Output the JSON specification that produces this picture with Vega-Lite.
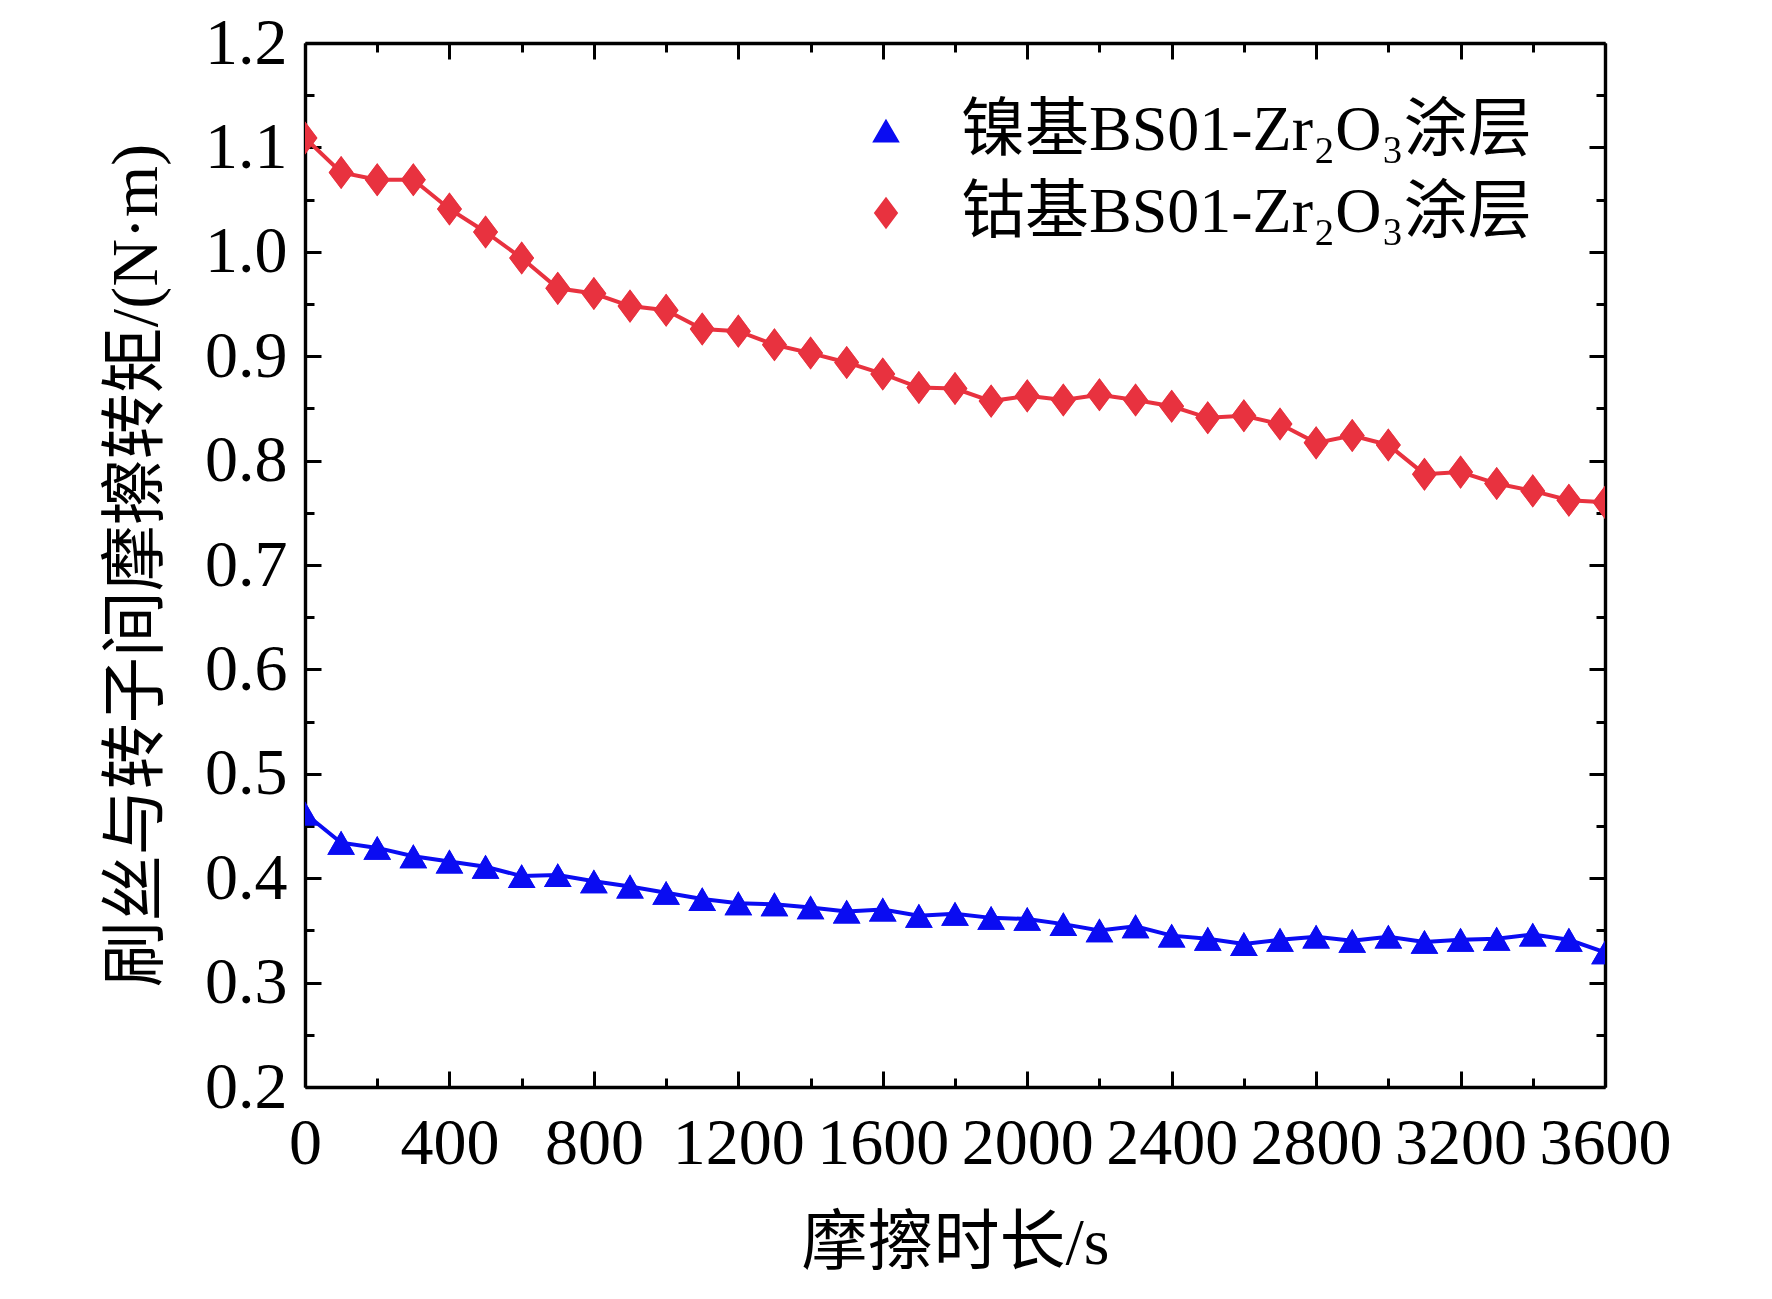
{
  "$schema": "https://vega.github.io/schema/vega-lite/v6.json",
  "autosize": {"type": "none"},
  "width": 1300,
  "height": 1044,
  "padding": {"left": 305, "top": 43, "right": 167, "bottom": 212},
  "background": "#ffffff",
  "config": {
    "view": {"stroke": null},
    "font": "Liberation Serif, Noto Sans CJK SC",
    "legend": {
      "title": null,
      "orient": "none",
      "legendX": 549,
      "legendY": 56,
      "symbolSize": 625,
      "labelFont": "Liberation Serif, Noto Sans CJK SC",
      "labelFontSize": 64,
      "labelColor": "black",
      "labelOffset": 43,
      "labelLimit": 0,
      "rowPadding": 18
    }
  },
  "data": {
    "values": [
      {"t": 0, "v": 0.462, "s": "镍基BS01-Zr₂O₃涂层"},
      {"t": 100, "v": 0.434, "s": "镍基BS01-Zr₂O₃涂层"},
      {"t": 200, "v": 0.429, "s": "镍基BS01-Zr₂O₃涂层"},
      {"t": 300, "v": 0.421, "s": "镍基BS01-Zr₂O₃涂层"},
      {"t": 400, "v": 0.416, "s": "镍基BS01-Zr₂O₃涂层"},
      {"t": 500, "v": 0.411, "s": "镍基BS01-Zr₂O₃涂层"},
      {"t": 600, "v": 0.402, "s": "镍基BS01-Zr₂O₃涂层"},
      {"t": 700, "v": 0.403, "s": "镍基BS01-Zr₂O₃涂层"},
      {"t": 800, "v": 0.397, "s": "镍基BS01-Zr₂O₃涂层"},
      {"t": 900, "v": 0.392, "s": "镍基BS01-Zr₂O₃涂层"},
      {"t": 1000, "v": 0.386, "s": "镍基BS01-Zr₂O₃涂层"},
      {"t": 1100, "v": 0.380, "s": "镍基BS01-Zr₂O₃涂层"},
      {"t": 1200, "v": 0.376, "s": "镍基BS01-Zr₂O₃涂层"},
      {"t": 1300, "v": 0.375, "s": "镍基BS01-Zr₂O₃涂层"},
      {"t": 1400, "v": 0.372, "s": "镍基BS01-Zr₂O₃涂层"},
      {"t": 1500, "v": 0.368, "s": "镍基BS01-Zr₂O₃涂层"},
      {"t": 1600, "v": 0.370, "s": "镍基BS01-Zr₂O₃涂层"},
      {"t": 1700, "v": 0.364, "s": "镍基BS01-Zr₂O₃涂层"},
      {"t": 1800, "v": 0.366, "s": "镍基BS01-Zr₂O₃涂层"},
      {"t": 1900, "v": 0.362, "s": "镍基BS01-Zr₂O₃涂层"},
      {"t": 2000, "v": 0.361, "s": "镍基BS01-Zr₂O₃涂层"},
      {"t": 2100, "v": 0.356, "s": "镍基BS01-Zr₂O₃涂层"},
      {"t": 2200, "v": 0.350, "s": "镍基BS01-Zr₂O₃涂层"},
      {"t": 2300, "v": 0.354, "s": "镍基BS01-Zr₂O₃涂层"},
      {"t": 2400, "v": 0.345, "s": "镍基BS01-Zr₂O₃涂层"},
      {"t": 2500, "v": 0.342, "s": "镍基BS01-Zr₂O₃涂层"},
      {"t": 2600, "v": 0.337, "s": "镍基BS01-Zr₂O₃涂层"},
      {"t": 2700, "v": 0.341, "s": "镍基BS01-Zr₂O₃涂层"},
      {"t": 2800, "v": 0.344, "s": "镍基BS01-Zr₂O₃涂层"},
      {"t": 2900, "v": 0.340, "s": "镍基BS01-Zr₂O₃涂层"},
      {"t": 3000, "v": 0.344, "s": "镍基BS01-Zr₂O₃涂层"},
      {"t": 3100, "v": 0.339, "s": "镍基BS01-Zr₂O₃涂层"},
      {"t": 3200, "v": 0.341, "s": "镍基BS01-Zr₂O₃涂层"},
      {"t": 3300, "v": 0.342, "s": "镍基BS01-Zr₂O₃涂层"},
      {"t": 3400, "v": 0.346, "s": "镍基BS01-Zr₂O₃涂层"},
      {"t": 3500, "v": 0.341, "s": "镍基BS01-Zr₂O₃涂层"},
      {"t": 3600, "v": 0.329, "s": "镍基BS01-Zr₂O₃涂层"},
      {"t": 0, "v": 1.109, "s": "钴基BS01-Zr₂O₃涂层"},
      {"t": 100, "v": 1.076, "s": "钴基BS01-Zr₂O₃涂层"},
      {"t": 200, "v": 1.069, "s": "钴基BS01-Zr₂O₃涂层"},
      {"t": 300, "v": 1.069, "s": "钴基BS01-Zr₂O₃涂层"},
      {"t": 400, "v": 1.041, "s": "钴基BS01-Zr₂O₃涂层"},
      {"t": 500, "v": 1.019, "s": "钴基BS01-Zr₂O₃涂层"},
      {"t": 600, "v": 0.994, "s": "钴基BS01-Zr₂O₃涂层"},
      {"t": 700, "v": 0.965, "s": "钴基BS01-Zr₂O₃涂层"},
      {"t": 800, "v": 0.960, "s": "钴基BS01-Zr₂O₃涂层"},
      {"t": 900, "v": 0.948, "s": "钴基BS01-Zr₂O₃涂层"},
      {"t": 1000, "v": 0.944, "s": "钴基BS01-Zr₂O₃涂层"},
      {"t": 1100, "v": 0.926, "s": "钴基BS01-Zr₂O₃涂层"},
      {"t": 1200, "v": 0.924, "s": "钴基BS01-Zr₂O₃涂层"},
      {"t": 1300, "v": 0.911, "s": "钴基BS01-Zr₂O₃涂层"},
      {"t": 1400, "v": 0.903, "s": "钴基BS01-Zr₂O₃涂层"},
      {"t": 1500, "v": 0.894, "s": "钴基BS01-Zr₂O₃涂层"},
      {"t": 1600, "v": 0.883, "s": "钴基BS01-Zr₂O₃涂层"},
      {"t": 1700, "v": 0.870, "s": "钴基BS01-Zr₂O₃涂层"},
      {"t": 1800, "v": 0.869, "s": "钴基BS01-Zr₂O₃涂层"},
      {"t": 1900, "v": 0.857, "s": "钴基BS01-Zr₂O₃涂层"},
      {"t": 2000, "v": 0.862, "s": "钴基BS01-Zr₂O₃涂层"},
      {"t": 2100, "v": 0.858, "s": "钴基BS01-Zr₂O₃涂层"},
      {"t": 2200, "v": 0.863, "s": "钴基BS01-Zr₂O₃涂层"},
      {"t": 2300, "v": 0.858, "s": "钴基BS01-Zr₂O₃涂层"},
      {"t": 2400, "v": 0.852, "s": "钴基BS01-Zr₂O₃涂层"},
      {"t": 2500, "v": 0.841, "s": "钴基BS01-Zr₂O₃涂层"},
      {"t": 2600, "v": 0.843, "s": "钴基BS01-Zr₂O₃涂层"},
      {"t": 2700, "v": 0.835, "s": "钴基BS01-Zr₂O₃涂层"},
      {"t": 2800, "v": 0.817, "s": "钴基BS01-Zr₂O₃涂层"},
      {"t": 2900, "v": 0.824, "s": "钴基BS01-Zr₂O₃涂层"},
      {"t": 3000, "v": 0.815, "s": "钴基BS01-Zr₂O₃涂层"},
      {"t": 3100, "v": 0.787, "s": "钴基BS01-Zr₂O₃涂层"},
      {"t": 3200, "v": 0.789, "s": "钴基BS01-Zr₂O₃涂层"},
      {"t": 3300, "v": 0.778, "s": "钴基BS01-Zr₂O₃涂层"},
      {"t": 3400, "v": 0.771, "s": "钴基BS01-Zr₂O₃涂层"},
      {"t": 3500, "v": 0.762, "s": "钴基BS01-Zr₂O₃涂层"},
      {"t": 3600, "v": 0.760, "s": "钴基BS01-Zr₂O₃涂层"}
    ]
  },
  "layer": [
    {
      "mark": {"type": "point", "filled": true, "size": 760, "opacity": 1, "clip": true, "strokeWidth": 1},
      "encoding": {
        "x": {
          "field": "t", "type": "quantitative",
          "scale": {"domain": [0, 3600], "nice": false},
          "axis": {
            "orient": "bottom",
            "values": [0, 200, 400, 600, 800, 1000, 1200, 1400, 1600, 1800, 2000, 2200, 2400, 2600, 2800, 3000, 3200, 3400, 3600],
            "labelExpr": "datum.value % 400 === 0 ? datum.label : ''",
            "format": "d",
            "tickSize": {"condition": {"test": "datum.value % 400 === 0", "value": -16}, "value": -9},
            "tickWidth": 3, "tickColor": "black",
            "domainWidth": 3.4, "domainColor": "black",
            "labelFont": "Liberation Serif", "labelFontSize": 66, "labelColor": "black",
            "labelPadding": 40, "labelFlush": false, "labelOverlap": false,
            "grid": false,
            "title": "摩擦时长/s",
            "titleFont": "Liberation Serif, Noto Sans CJK SC", "titleFontSize": 66,
            "titleFontWeight": "normal", "titleColor": "black",
            "titleX": 650, "titleY": 156, "titleBaseline": "middle", "titleAlign": "center"
          }
        },
        "y": {
          "field": "v", "type": "quantitative",
          "scale": {"domain": [0.2, 1.2], "nice": false, "zero": false},
          "axis": {
            "orient": "left",
            "values": [0.2, 0.25, 0.3, 0.35, 0.4, 0.45, 0.5, 0.55, 0.6, 0.65, 0.7, 0.75, 0.8, 0.85, 0.9, 0.95, 1.0, 1.05, 1.1, 1.15, 1.2],
            "format": ".1f",
            "labelExpr": "abs(datum.value * 10 - round(datum.value * 10)) < 0.001 ? datum.label : ''",
            "tickSize": {"condition": {"test": "abs(datum.value * 10 - round(datum.value * 10)) < 0.001", "value": -16}, "value": -9},
            "tickWidth": 3, "tickColor": "black",
            "domainWidth": 3.4, "domainColor": "black",
            "labelFont": "Liberation Serif", "labelFontSize": 66, "labelColor": "black",
            "labelPadding": 34, "labelFlush": false, "labelOverlap": false,
            "grid": false,
            "title": "刷丝与转子间摩擦转矩/(N·m)",
            "titleFont": "Liberation Serif, Noto Sans CJK SC", "titleFontSize": 66,
            "titleFontWeight": "normal", "titleColor": "black",
            "titleX": -169, "titleY": 522, "titleAngle": 270,
            "titleBaseline": "middle", "titleAlign": "center"
          }
        },
        "color": {
          "field": "s", "type": "nominal",
          "scale": {"domain": ["镍基BS01-Zr₂O₃涂层", "钴基BS01-Zr₂O₃涂层"], "range": ["#0a0cf2", "#e8323f"]},
          "legend": {}
        },
        "shape": {
          "field": "s", "type": "nominal",
          "scale": {"domain": ["镍基BS01-Zr₂O₃涂层", "钴基BS01-Zr₂O₃涂层"], "range": ["triangle-up", "M0,-1.2L0.9,0L0,1.2L-0.9,0Z"]},
          "legend": null
        }
      }
    },
    {
      "mark": {"type": "line", "strokeWidth": 4, "clip": true},
      "encoding": {
        "x": {
          "field": "t", "type": "quantitative",
          "axis": {
            "orient": "top",
            "values": [0, 200, 400, 600, 800, 1000, 1200, 1400, 1600, 1800, 2000, 2200, 2400, 2600, 2800, 3000, 3200, 3400, 3600],
            "labels": false, "title": null, "grid": false,
            "tickSize": {"condition": {"test": "datum.value % 400 === 0", "value": -16}, "value": -9},
            "tickWidth": 3, "tickColor": "black",
            "domainWidth": 3.4, "domainColor": "black"
          }
        },
        "y": {
          "field": "v", "type": "quantitative",
          "axis": {
            "orient": "right",
            "values": [0.2, 0.25, 0.3, 0.35, 0.4, 0.45, 0.5, 0.55, 0.6, 0.65, 0.7, 0.75, 0.8, 0.85, 0.9, 0.95, 1.0, 1.05, 1.1, 1.15, 1.2],
            "labels": false, "title": null, "grid": false,
            "tickSize": {"condition": {"test": "abs(datum.value * 10 - round(datum.value * 10)) < 0.001", "value": -16}, "value": -9},
            "tickWidth": 3, "tickColor": "black",
            "domainWidth": 3.4, "domainColor": "black"
          }
        },
        "stroke": {
          "field": "s", "type": "nominal",
          "scale": {"domain": ["镍基BS01-Zr₂O₃涂层", "钴基BS01-Zr₂O₃涂层"], "range": ["#0a0cf2", "#e8323f"]},
          "legend": null
        }
      }
    },
    {
      "mark": {"type": "point", "filled": true, "size": 760, "opacity": 1, "clip": true, "strokeWidth": 1},
      "encoding": {
        "x": {"field": "t", "type": "quantitative", "axis": null},
        "y": {"field": "v", "type": "quantitative", "axis": null},
        "fill": {
          "field": "s", "type": "nominal",
          "scale": {"domain": ["镍基BS01-Zr₂O₃涂层", "钴基BS01-Zr₂O₃涂层"], "range": ["#0a0cf2", "#e8323f"]},
          "legend": null
        },
        "shape": {"field": "s", "type": "nominal", "legend": null}
      }
    }
  ],
  "resolve": {"axis": {"x": "independent", "y": "independent"}}
}
